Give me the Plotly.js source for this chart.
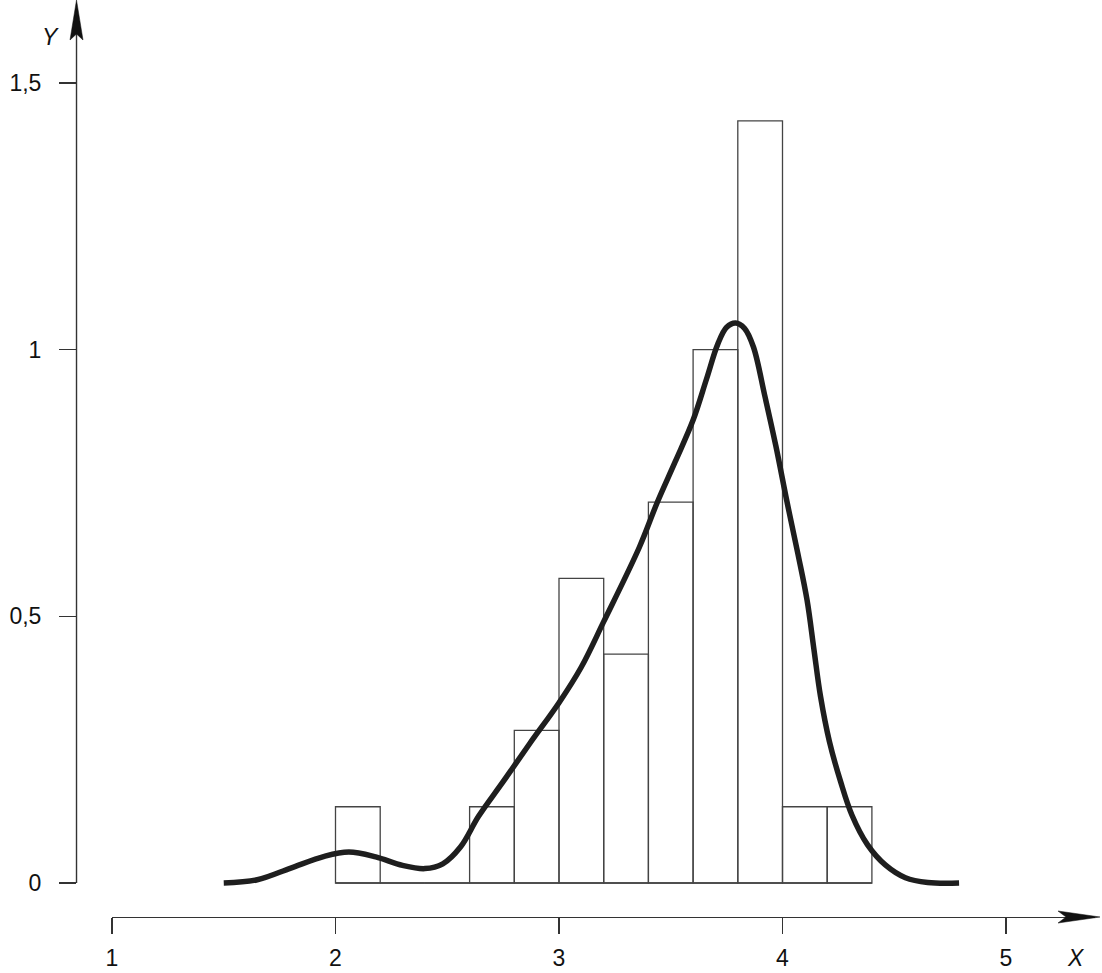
<!DOCTYPE html>
<html>
<head>
<meta charset="utf-8">
<script src="https://cdn.plot.ly/plotly-3.0.1.min.js"></script>
<style>html,body{margin:0;padding:0;background:#fff;}#chart{width:1102px;height:973px;}</style>
</head>
<body>
<div id="chart"></div>
<script>
// Histogram bins (edges) and heights
var binEdges = [2.0, 2.2, 2.4, 2.6, 2.8, 3.0, 3.2, 3.4, 3.6, 3.8, 4.0, 4.2, 4.4];
var binHeights = [0.143, 0, 0, 0.143, 0.286, 0.571, 0.429, 0.714, 1.0, 1.429, 0.143, 0.143];

// Density curve
var curveX = [1.50, 1.65, 1.80, 1.95, 2.06, 2.18, 2.30, 2.40, 2.48, 2.56, 2.64, 2.75, 2.87, 3.00, 3.10, 3.20, 3.36, 3.44, 3.52, 3.60, 3.66, 3.71, 3.75, 3.79, 3.83, 3.87, 3.92, 3.97, 4.02, 4.07, 4.11, 4.14, 4.17, 4.21, 4.26, 4.31, 4.38, 4.46, 4.55, 4.65, 4.79];
var curveY = [0.000, 0.006, 0.028, 0.050, 0.058, 0.049, 0.033, 0.027, 0.036, 0.068, 0.125, 0.190, 0.262, 0.338, 0.405, 0.490, 0.630, 0.714, 0.790, 0.868, 0.945, 1.010, 1.042, 1.050, 1.040, 1.005, 0.915, 0.820, 0.715, 0.615, 0.530, 0.440, 0.350, 0.265, 0.190, 0.128, 0.072, 0.034, 0.010, 0.001, 0.000];

// Axis ticks
var xTickVals = [1, 2, 3, 4, 5];
var xTickText = ['1', '2', '3', '4', '5'];
var yTickVals = [0, 0.5, 1, 1.5];
var yTickText = ['0', '0,5', '1', '1,5'];

// layout geometry (pixels)
var W = 1102, H = 973, ML = 76, MB = 56;
var PW = W - ML, PH = H - MB;
function px2paper(px) { return (px - ML) / PW; }
function py2paper(py) { return (PH - py) / PH; }

var centers = [], widths = [];
for (var i = 0; i < binHeights.length; i++) {
  centers.push((binEdges[i] + binEdges[i + 1]) / 2);
  widths.push(binEdges[i + 1] - binEdges[i]);
}

var traces = [
  {
    type: 'bar', x: centers, y: binHeights, width: widths,
    marker: {color: 'rgba(255,255,255,0)', line: {color: '#444', width: 1.3}},
    hoverinfo: 'skip', showlegend: false
  },
  {
    type: 'scatter', mode: 'lines',
    x: [binEdges[0], binEdges[binEdges.length - 1]], y: [0, 0],
    line: {color: '#444', width: 1.3}, hoverinfo: 'skip', showlegend: false
  },
  {
    type: 'scatter', mode: 'lines', x: curveX, y: curveY,
    line: {color: '#1e1e1e', width: 5.5, shape: 'spline', smoothing: 1},
    hoverinfo: 'skip', showlegend: false
  }
];

var unitX = 223.5, unitY = 533.333;
var xd0 = px2paper(112), xd1 = px2paper(1095);
var xr1 = 1 + (1095 - 112) / unitX;
var yr0 = -(PH - 883) / unitY, yr1 = 883 / unitY;

var layout = {
  width: W, height: H,
  margin: {l: ML, r: 0, t: 0, b: MB, pad: 0},
  paper_bgcolor: '#fff', plot_bgcolor: 'rgba(0,0,0,0)',
  font: {family: 'Liberation Sans, Arial, sans-serif', size: 23, color: '#111'},
  showlegend: false,
  bargap: 0,
  xaxis: {
    domain: [xd0, xd1], range: [1, xr1], anchor: 'free', position: 0,
    showgrid: false, zeroline: false, showline: true, linecolor: '#333', linewidth: 1.4,
    ticks: 'outside', ticklen: 16, tickwidth: 1.3, tickcolor: '#333',
    tickmode: 'array', tickvals: xTickVals, ticktext: xTickText,
    ticklabelstandoff: 4, automargin: false, fixedrange: true
  },
  yaxis: {
    domain: [0, 1], range: [yr0, yr1], anchor: 'free', position: 0,
    showgrid: false, zeroline: false, showline: false,
    ticks: 'outside', ticklen: 17, tickwidth: 1.3, tickcolor: '#333',
    tickmode: 'array', tickvals: yTickVals, ticktext: yTickText,
    ticklabelstandoff: 13, automargin: false, fixedrange: true
  },
  shapes: [
    {type: 'line', xref: 'paper', yref: 'paper', x0: 0.0005, x1: 0.0005,
     y0: py2paper(883), y1: py2paper(32), line: {color: '#333', width: 1.4}},
    {type: 'path', xref: 'paper', yref: 'paper',
     path: 'M ' + px2paper(76.5) + ',' + py2paper(0) + ' L ' + px2paper(83) + ',' + py2paper(40) +
           ' L ' + px2paper(76.5) + ',' + py2paper(34) + ' L ' + px2paper(70) + ',' + py2paper(40) + ' Z',
     fillcolor: '#111', line: {color: '#111', width: 0.5}},
    {type: 'path', xref: 'paper', yref: 'paper',
     path: 'M ' + px2paper(1100) + ',' + py2paper(917) + ' L ' + px2paper(1058) + ',' + py2paper(911) +
           ' L ' + px2paper(1066) + ',' + py2paper(917) + ' L ' + px2paper(1058) + ',' + py2paper(923) + ' Z',
     fillcolor: '#111', line: {color: '#111', width: 0.5}}
  ],
  annotations: [
    {xref: 'paper', yref: 'paper', x: px2paper(50), y: py2paper(37), text: '<i>Y</i>',
     showarrow: false, xanchor: 'center', yanchor: 'middle', font: {size: 23, color: '#111'}},
    {xref: 'paper', yref: 'paper', x: px2paper(1076), y: py2paper(958), text: '<i>X</i>',
     showarrow: false, xanchor: 'center', yanchor: 'middle', font: {size: 23, color: '#111'}}
  ]
};

Plotly.newPlot('chart', traces, layout, {staticPlot: true, displayModeBar: false});
</script>
</body>
</html>
